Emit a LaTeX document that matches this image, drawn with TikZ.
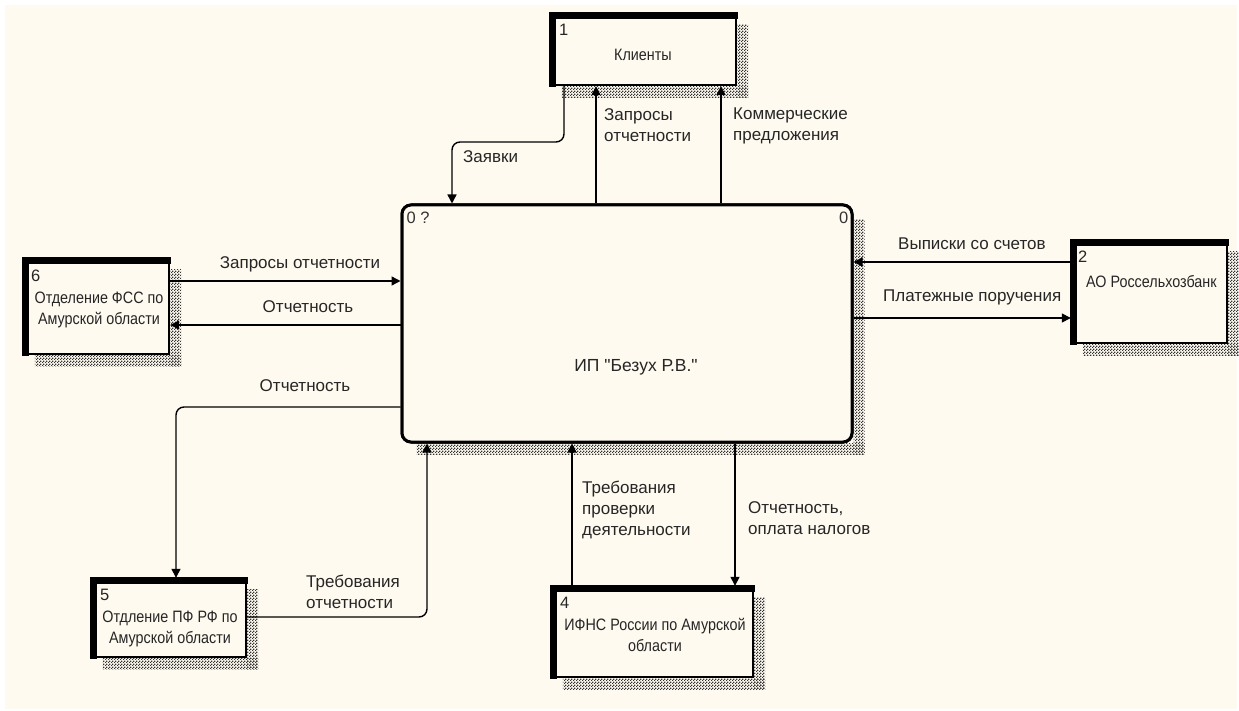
\documentclass[tikz,border=0pt]{standalone}
\usepackage{fontspec}
\setmainfont{Liberation Sans}
\newfontfamily\condfont[FakeStretch=0.87]{Liberation Sans}
\newfontfamily\plainfont[Ligatures=TeXOff]{Liberation Sans}
\usetikzlibrary{arrows.meta,patterns}
\definecolor{cream}{RGB}{255,250,240}
\pgfdeclarepatternformonly{dither}{\pgfpointorigin}{\pgfqpoint{3pt}{3pt}}{\pgfqpoint{3pt}{3pt}}{%
  \pgfpathrectangle{\pgfpointorigin}{\pgfqpoint{1.5pt}{1.5pt}}%
  \pgfpathrectangle{\pgfqpoint{1.5pt}{1.5pt}}{\pgfqpoint{1.5pt}{1.5pt}}%
  \pgfusepath{fill}}
\begin{document}
\begin{tikzpicture}[x=1pt,y=-1pt,
  ext/.style={draw=black,line width=2.4pt,fill=cream,inner sep=0pt,minimum width=#1},
  act/.style={draw=black,line width=3pt,fill=cream,rounded corners=9pt,inner sep=0pt},
  lbl/.style={font=\fontsize{17}{21}\selectfont,text=black!85,inner sep=0pt,align=left},
  btxt/.style={font=\condfont\fontsize{16.5}{21}\selectfont,text=black!85,inner sep=0pt,align=center},
  num/.style={font=\fontsize{16.5}{18}\selectfont,text=black!85,inner sep=0pt,anchor=north west},
  conn/.style={line width=1.4pt,rounded corners=8pt,-{Triangle[length=9pt,width=9pt]}},
  shad/.style={pattern=dither,pattern color=black!80}
]
\useasboundingbox (0,0) rectangle (1239,711);
\fill[white] (0,0) rectangle (1239,711);
\fill[cream] (5,5) rectangle (1237,709);

% nodes
\node[act,minimum width=450pt,minimum height=237pt] (main) at (627,323.5) {};
\node[ext=185pt,minimum height=71pt] (k1) at (643.5,49.5) {};
\node[ext=145pt,minimum height=95pt] (b6) at (96.5,306.5) {};
\node[ext=155pt,minimum height=102pt] (b2) at (1149.5,292) {};
\node[ext=154pt,minimum height=78pt] (b5) at (169,618) {};
\node[ext=201pt,minimum height=90pt] (b4) at (652.5,632) {};

% shadows
\foreach \b in {k1,b6,b2,b5,b4}{
  \fill[shad] ([yshift=-12pt]\b.north east) rectangle ([xshift=11pt,yshift=-11pt]\b.south east);
  \fill[shad] ([xshift=12pt]\b.south west) rectangle ([xshift=11pt,yshift=-11pt]\b.south east);
}
\fill[shad] ([yshift=-16pt]main.north east) rectangle ([xshift=11pt,yshift=-11pt]main.south east);
\fill[shad] ([xshift=16pt]main.south west) rectangle ([xshift=11pt,yshift=-11pt]main.south east);

% redraw boxes over shadows
\node[act,minimum width=450pt,minimum height=237pt] at (main) {};
\foreach \b/\w/\h in {k1/185/71,b6/145/95,b2/155/102,b5/154/78,b4/201/90}{
  \node[ext=\w pt,minimum height=\h pt] at (\b) {};
  \fill ([xshift=-1.2pt,yshift=-1.2pt]\b.south west) rectangle ([xshift=6pt]\b.north west);
  \fill ([xshift=-1.2pt,yshift=1.2pt]\b.north west) rectangle ([xshift=1.2pt,yshift=-6.5pt]\b.north east);
}

% numbers
\node[num] at ([xshift=9pt,yshift=-11pt]k1.north west) {1};
\node[num] at ([xshift=8pt,yshift=-12pt]b6.north west) {6};
\node[num] at ([xshift=7pt,yshift=-11pt]b2.north west) {2};
\node[num] at ([xshift=9pt,yshift=-11pt]b5.north west) {5};
\node[num] at ([xshift=9pt,yshift=-11pt]b4.north west) {4};
\node[num,text=black!80] at ([xshift=6pt,yshift=-8pt]main.north west) {0 ?};
\node[num,anchor=north east,text=black!80] at ([xshift=-5pt,yshift=-8pt]main.north east) {0};

% box texts
\node[btxt] at (643,55) {Клиенты};
\node[btxt] at (99,310) {Отделение ФСС по\\Амурской области};
\node[btxt,anchor=west] at (1086,282) {АО Россельхозбанк};
\node[btxt] at (170,629) {Отдление ПФ РФ по\\Амурской области};
\node[btxt] at (655,635) {ИФНС России по Амурской\\области};
\node[font=\plainfont\fontsize{17.5}{22}\selectfont,text=black!85] at (636,367) {ИП "Безух Р.В."};

% connectors
\draw[conn] (564,0 |- k1.south) -- (564,142) -- (452,142) -- (452,0 |- main.north);
\draw[conn] (596,0 |- main.north) -- (596,0 |- k1.south);
\draw[conn] (721,0 |- main.north) -- (721,0 |- k1.south);
\draw[conn] (b6.east |- 0,281) -- (main.west |- 0,281);
\draw[conn] (main.west |- 0,325) -- (b6.east |- 0,325);
\draw[conn] (main.west |- 0,407) -- (176,407) -- (176,0 |- b5.north);
\draw[conn] (b5.east |- 0,617) -- (427,617) -- (427,0 |- main.south);
\draw[conn] (572,0 |- b4.north) -- (572,0 |- main.south);
\draw[conn] (735,0 |- main.south) -- (735,0 |- b4.north);
\draw[conn] (b2.west |- 0,262) -- (main.east |- 0,262);
\draw[conn] (main.east |- 0,318) -- (b2.west |- 0,318);

% labels
\node[lbl,anchor=west] at (463,157) {Заявки};
\node[lbl,anchor=north west] at (604,108) {Запросы\\отчетности};
\node[lbl,anchor=north west] at (733,108) {Коммерческие\\предложения};
\node[lbl] at (300,264) {Запросы отчетности};
\node[lbl] at (308,307) {Отчетность};
\node[lbl] at (305,386) {Отчетность};
\node[lbl,anchor=north west] at (306,575) {Требования\\отчетности};
\node[lbl,anchor=north west] at (582,481) {Требования\\проверки\\деятельности};
\node[lbl,anchor=north west] at (748,501) {Отчетность,\\оплата налогов};
\node[lbl,anchor=west] at (898,244) {Выписки со счетов};
\node[lbl,anchor=west] at (883,297) {Платежные поручения};
\end{tikzpicture}
\end{document}
